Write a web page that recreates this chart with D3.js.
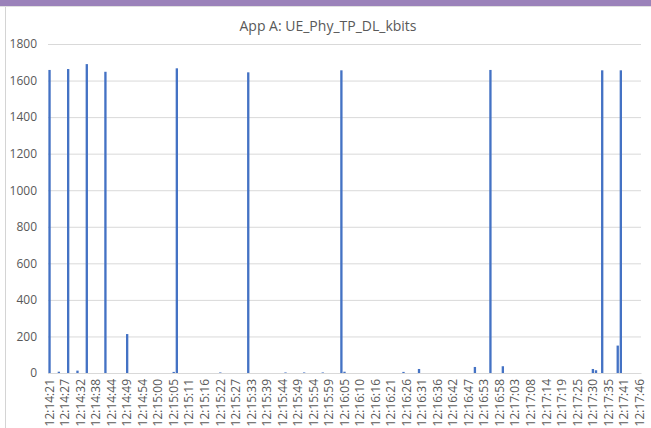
<!DOCTYPE html>
<html>
<head>
<meta charset="utf-8">
<script src="https://cdnjs.cloudflare.com/ajax/libs/d3/7.8.5/d3.min.js"></script>
<style>
  body { margin: 0; background: #fff; }
  svg text { font-family: "Open Sans", "Noto Sans", sans-serif; fill: #595959; }
</style>
</head>
<body>
<svg id="chart" width="651" height="428"></svg>
<script>
// one sample per category, timestamps only known at every 5th sample
var sampleCount = 191;
var tickEvery = 5;
var tickLabels = ["12:14:21","12:14:27","12:14:32","12:14:38","12:14:44","12:14:49","12:14:54",
  "12:15:00","12:15:05","12:15:11","12:15:16","12:15:22","12:15:27","12:15:33","12:15:39",
  "12:15:44","12:15:49","12:15:54","12:15:59","12:16:05","12:16:10","12:16:16","12:16:21",
  "12:16:26","12:16:31","12:16:36","12:16:42","12:16:47","12:16:53","12:16:58","12:17:03",
  "12:17:08","12:17:14","12:17:19","12:17:25","12:17:30","12:17:35","12:17:41","12:17:46"];
// non-zero samples: [sample index, kbits]; every other sample is 0
var spikeIndex = [0, 3, 6, 9, 12, 18, 25, 40, 41, 55, 64, 76, 82, 88, 94, 95, 114, 119,
  137, 142, 146, 175, 176, 178, 183, 184];
var spikeValue = [1658, 7, 1663, 13, 1690, 1648, 213, 6, 1667, 3, 1645, 3, 3, 3, 1656, 7, 6, 22,
  33, 1658, 37, 22, 15, 1656, 150, 1656];
var yTicks = [0, 200, 400, 600, 800, 1000, 1200, 1400, 1600, 1800];

var svg = d3.select("#chart");
var width = +svg.attr("width"),
    height = +svg.attr("height");

// window frame bits around the chart
svg.append("rect").attr("x", 0).attr("y", 0).attr("width", width).attr("height", 6).attr("fill", "#9b82ba");
svg.append("line").attr("x1", 0).attr("x2", width).attr("y1", 6.5).attr("y2", 6.5).attr("stroke", "#e0e0e0");
svg.append("line").attr("x1", 5.5).attr("x2", 5.5).attr("y1", 7).attr("y2", height).attr("stroke", "#d4d4d4");

var margin = {left: 48, right: 10, top: 44, bottom: 55};
var plotW = width - margin.left - margin.right,
    plotH = 373 - margin.top;

var data = d3.range(sampleCount).map(function(i) {
  var k = spikeIndex.indexOf(i);
  return {i: i, v: k >= 0 ? spikeValue[k] : 0};
});

var x = d3.scaleBand()
  .domain(d3.range(sampleCount))
  .range([0, plotW])
  .paddingInner(0.25)
  .paddingOuter(0.12);
var y = d3.scaleLinear()
  .domain([0, 1800])
  .range([plotH, 0]);

var g = svg.append("g").attr("transform", "translate(" + margin.left + "," + margin.top + ")");

svg.append("text")
  .attr("x", 328).attr("y", 31)
  .attr("text-anchor", "middle")
  .style("font-size", "14px")
  .text("App A: UE_Phy_TP_DL_kbits");

// gridlines + y labels
var gy = g.append("g")
  .call(d3.axisLeft(y).tickValues(yTicks).tickSize(-plotW).tickFormat(d3.format("d")));
gy.select(".domain").remove();
gy.selectAll(".tick line").attr("stroke", "#d9d9d9");
gy.selectAll(".tick text").attr("x", -11).style("font-size", "12px");

g.selectAll(".bar")
  .data(data)
  .enter().append("rect")
  .attr("class", "bar")
  .attr("fill", "#4472c4")
  .attr("x", function(d) { return x(d.i); })
  .attr("width", x.bandwidth())
  .attr("y", function(d) { return y(d.v); })
  .attr("height", function(d) { return plotH - y(d.v); });

var gx = g.append("g")
  .attr("transform", "translate(0," + plotH + ")")
  .call(d3.axisBottom(x)
    .tickValues(d3.range(0, sampleCount, tickEvery))
    .tickSize(0)
    .tickFormat(function(d) { return tickLabels[d / tickEvery]; }));
gx.select(".domain").attr("stroke", "#d9d9d9");
gx.selectAll(".tick text")
  .attr("transform", "rotate(-90)")
  .attr("x", -6)
  .attr("y", 0)
  .attr("dy", "0.35em")
  .attr("text-anchor", "end")
  .style("font-size", "12px");
</script>
</body>
</html>
